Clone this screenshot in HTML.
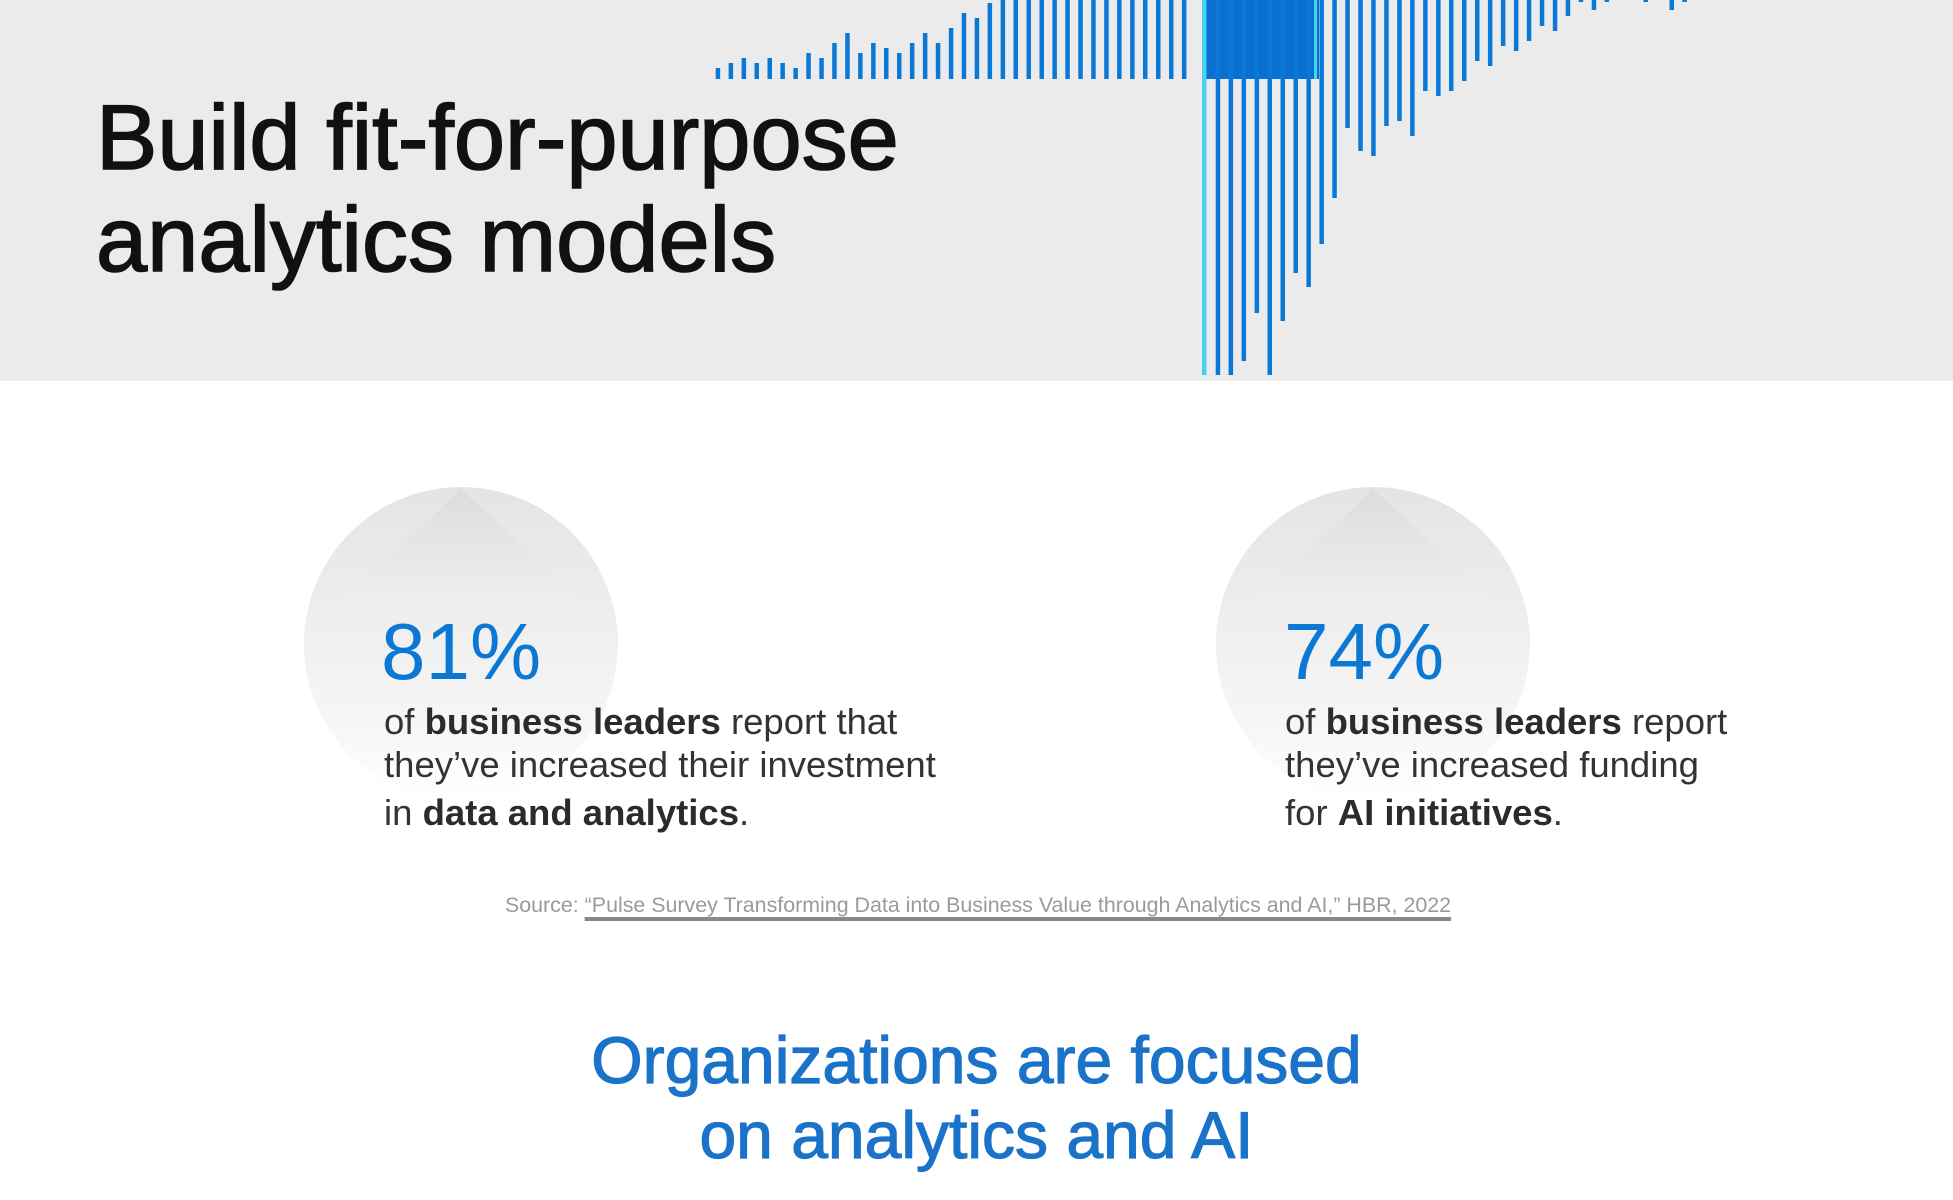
<!DOCTYPE html>
<html><head><meta charset="utf-8">
<style>
html,body{margin:0;padding:0;background:#fff;}
body{width:1953px;height:1200px;position:relative;overflow:hidden;font-family:"Liberation Sans","DejaVu Sans",sans-serif;}
.abs{position:absolute;white-space:nowrap;}
.title{left:96px;font-size:92px;color:#111;line-height:1;-webkit-text-stroke:1.6px #111;}
.big{font-size:80px;color:#0b78d4;line-height:1;}
.body{font-size:36.5px;color:#333;line-height:1;}
.body b{color:#2b2b2b;}
.src{font-size:21.4px;color:#9a9a9a;}
.src span{text-decoration:underline;text-decoration-color:#888;text-decoration-thickness:4px;text-underline-offset:5px;}
.h2{font-size:66px;color:#1a73c8;width:1953px;text-align:center;left:0;line-height:1;-webkit-text-stroke:1.2px #1a73c8;}
</style></head>
<body>
<div class="abs" style="left:0;top:0;width:1953px;height:381px;background:#ebebeb;"></div>
<svg id="bars" class="abs" style="left:0;top:0" width="1953" height="381"></svg>
<div class="abs title" style="top:92px;">Build fit-for-purpose</div>
<div class="abs title" style="top:194px;">analytics models</div>

<svg class="abs" style="left:0;top:0" width="1953" height="1200">
<defs>
<linearGradient id="cg" x1="0" y1="0" x2="0" y2="1"><stop offset="0" stop-color="#e4e4e6"/><stop offset="0.75" stop-color="#f6f6f6"/><stop offset="1" stop-color="#ffffff"/></linearGradient>
<linearGradient id="tg" x1="0" y1="0" x2="0" y2="1"><stop offset="0" stop-color="#d8d9dc"/><stop offset="1" stop-color="#f0f0f0"/></linearGradient>
</defs>
<g>
<circle cx="461" cy="644" r="157" fill="url(#cg)"/>
<polygon points="461,489 334,610 588,610" fill="url(#tg)" opacity="0.7"/>
</g>
<g>
<circle cx="1373" cy="644" r="157" fill="url(#cg)"/>
<polygon points="1373,489 1246,610 1500,610" fill="url(#tg)" opacity="0.7"/>
</g>
</svg>

<div class="abs big" style="left:381px;top:612px;">81%</div>
<div class="abs body" style="left:384px;top:704px;">of <b>business leaders</b> report that</div>
<div class="abs body" style="left:384px;top:747px;">they’ve increased their investment</div>
<div class="abs body" style="left:384px;top:795px;">in <b>data and analytics</b>.</div>

<div class="abs big" style="left:1284px;top:612px;">74%</div>
<div class="abs body" style="left:1285px;top:704px;">of <b>business leaders</b> report</div>
<div class="abs body" style="left:1285px;top:747px;">they’ve increased funding</div>
<div class="abs body" style="left:1285px;top:795px;">for <b>AI initiatives</b>.</div>

<div class="abs src" style="left:505px;top:893px;">Source: <span>“Pulse Survey Transforming Data into Business Value through Analytics and AI,” HBR, 2022</span></div>

<div class="abs h2" style="top:1027px;">Organizations are focused</div>
<div class="abs h2" style="top:1102px;">on analytics and AI</div>

<script>
const upTops = [68,63,58,63,58,63,68,53,58,43,33,53,43,48,53,43,33,43,28,13,18,3,0,0,0,0,0,0,0,0,0,0,0,0,0,0,0];
const downBottoms = [375,375,361,313,375,321,273,287,244,198,128,151,156,126,121,136,91,96,91,81,61,66,46,51,41,26,31,16,2,10,2,0,0,2,0,10,2];
const baseY = 79;
const svg = document.getElementById('bars');
const NS = 'http://www.w3.org/2000/svg';
function upX(i){ return 717.9 + i*12.95; }
function downX(k){ return 700 + (812 + k*20.33)/1.568; }
function rect(x,y,w,h,fill,name){
  const r = document.createElementNS(NS,'rect');
  r.setAttribute('x',x.toFixed(1)); r.setAttribute('y',y); r.setAttribute('width',w); r.setAttribute('height',Math.max(0,h)); r.setAttribute('fill',fill);
  
  
  svg.appendChild(r);
}
upTops.forEach((t,i)=>{ rect(upX(i)-2.2,t,4.5,baseY-t,'#0a78d6','up-bar'); });
rect(1204,0,115,baseY,'#0a70d0','dense-bar-block');
downBottoms.forEach((b,k)=>{ if(b>0) rect(downX(k)-2.2,0,4.5,b,'#0a78d6','down-bar'); });
rect(1202,0,4.5,375,'#45d4f0','cyan-bar');
rect(1314,0,3,baseY,'#45d4f0','cyan-stripe');
</script>
</body></html>
